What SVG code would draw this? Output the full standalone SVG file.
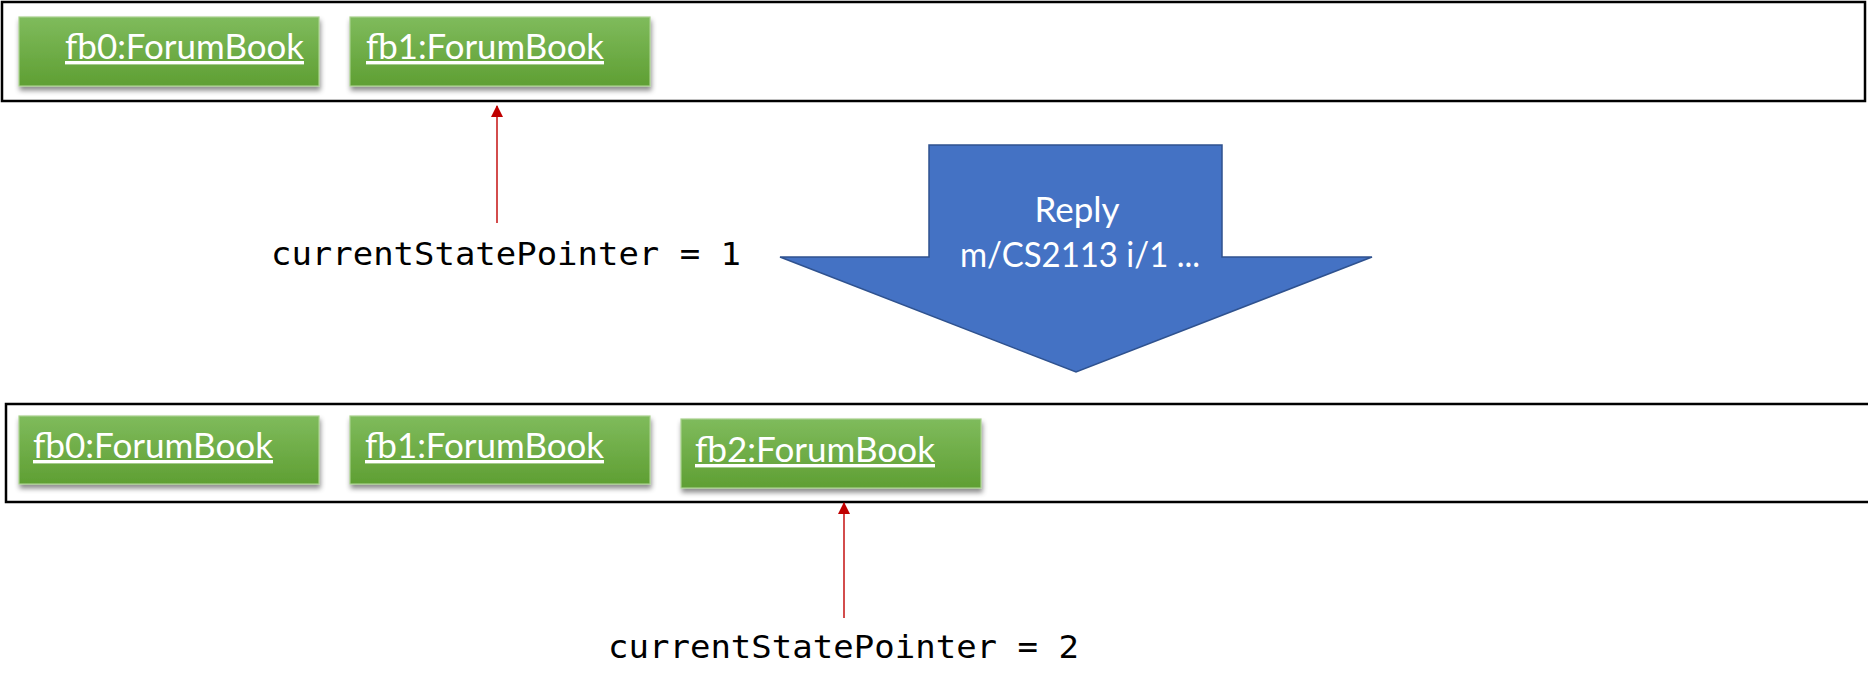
<svg xmlns="http://www.w3.org/2000/svg" width="1868" height="689" viewBox="0 0 1868 689">
<defs>
<linearGradient id="g" x1="0" y1="0" x2="0" y2="1">
<stop offset="0" stop-color="#7fbb5c"/>
<stop offset="1" stop-color="#5f9f33"/>
</linearGradient>
<filter id="sh" x="-10%" y="-20%" width="120%" height="150%">
<feDropShadow dx="1" dy="4" stdDeviation="2.5" flood-color="#000" flood-opacity="0.45"/>
</filter>
<marker id="ah" viewBox="0 0 12 12" refX="11" refY="6" markerWidth="12" markerHeight="12" markerUnits="userSpaceOnUse" orient="auto">
<path d="M0,0 L12,6 L0,12 Z" fill="#c00000"/>
</marker>
<style>
.frame{fill:#fff;stroke:#000;stroke-width:2.5}
.box{fill:url(#g);stroke:#a9d18e;stroke-width:1.2;filter:url(#sh)}
.lbl{font-family:Lato,"Open Sans",sans-serif;font-size:34px;fill:#fff;text-decoration:underline}
.mono{font-family:"DejaVu Sans Mono","Liberation Mono",monospace;font-size:32px;fill:#000}
.ptr{stroke:#c00000;stroke-width:1.4;fill:none}
.big{fill:#4472c4;stroke:#2f528f;stroke-width:1.5}
.atxt{font-family:Lato,"Open Sans",sans-serif;font-size:34px;fill:#fff;text-anchor:middle}
</style>
</defs>
<rect id="frameTop" class="frame" x="2" y="2" width="1863" height="99"/>
<rect id="frameBottom" class="frame" x="6" y="404" width="1875" height="98"/>
<g id="top-fb0">
<rect class="box" x="19" y="17" width="300" height="69"/>
<text class="lbl" x="65" y="59" textLength="239" lengthAdjust="spacingAndGlyphs">fb0:ForumBook</text>
</g>
<g id="top-fb1">
<rect class="box" x="350" y="17" width="300" height="69"/>
<text class="lbl" x="366" y="59" textLength="238" lengthAdjust="spacingAndGlyphs">fb1:ForumBook</text>
</g>
<g id="bot-fb0">
<rect class="box" x="19" y="416" width="300" height="68"/>
<text class="lbl" x="33" y="458" textLength="240" lengthAdjust="spacingAndGlyphs">fb0:ForumBook</text>
</g>
<g id="bot-fb1">
<rect class="box" x="350" y="416" width="300" height="68"/>
<text class="lbl" x="365" y="458" textLength="239" lengthAdjust="spacingAndGlyphs">fb1:ForumBook</text>
</g>
<g id="bot-fb2">
<rect class="box" x="681" y="419" width="300" height="69"/>
<text class="lbl" x="695" y="462" textLength="240" lengthAdjust="spacingAndGlyphs">fb2:ForumBook</text>
</g>
<g id="command">
<polygon class="big" points="929,145 1222,145 1222,257 1372,257 1076,372 780,257 929,257"/>
<text class="atxt" x="1077" y="222" textLength="85" lengthAdjust="spacingAndGlyphs">Reply</text>
<text class="atxt" x="1080" y="267" textLength="240" lengthAdjust="spacingAndGlyphs">m/CS2113 i/1 ...</text>
</g>
<g id="pointer1">
<text class="mono" x="271" y="265" textLength="470" lengthAdjust="spacingAndGlyphs">currentStatePointer = 1</text>
</g>
<g id="pointer2">
<text class="mono" x="608" y="658" textLength="471" lengthAdjust="spacingAndGlyphs">currentStatePointer = 2</text>
</g>
<g id="connectors">
<line class="ptr" x1="497" y1="223" x2="497" y2="106" marker-end="url(#ah)"/>
<line class="ptr" x1="844" y1="618" x2="844" y2="503" marker-end="url(#ah)"/>
</g>
</svg>
